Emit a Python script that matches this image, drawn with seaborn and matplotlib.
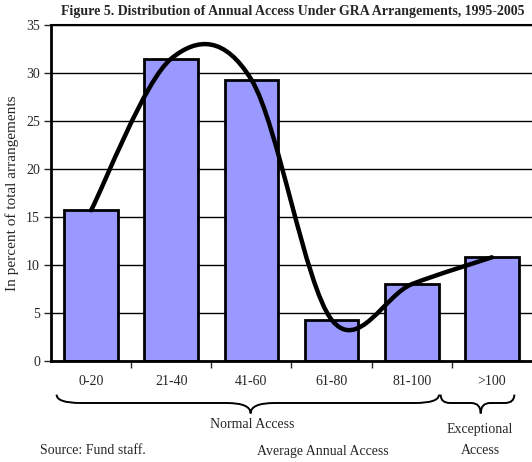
import numpy as np
import pandas as pd
import seaborn as sns
import matplotlib
matplotlib.use("Agg")
import matplotlib.pyplot as plt
from matplotlib.path import Path
from matplotlib.patches import PathPatch
import matplotlib.transforms as mtransforms

categories = ["0-20", "21-40", "41-60", "61-80", "81-100", ">100"]
shares = [15.7, 31.5, 29.3, 4.3, 8.0, 10.8]
title = "Figure 5. Distribution of Annual Access Under GRA Arrangements, 1995-2005"

sns.set_style("white")
plt.rcParams["font.family"] = ["Liberation Serif", "DejaVu Serif"]

W, H = 532, 462
fig = plt.figure(figsize=(W / 100, H / 100), dpi=100)
ax = fig.add_axes([51 / W, (H - 361) / H, 481 / W, 336 / H])

df = pd.DataFrame({"cat": categories, "val": shares})
sns.barplot(data=df, x="cat", y="val", ax=ax, color="#9999ff", saturation=1,
            width=0.67, edgecolor="black", linewidth=2, zorder=2)

# smoothed line through bar tops (Excel-style Catmull-Rom Bezier)
xs = np.arange(len(shares), dtype=float)
ys = np.array(shares, dtype=float)
verts = [(xs[0], ys[0])]
codes = [Path.MOVETO]
n = len(xs)
for i in range(n - 1):
    p0 = np.array([xs[max(i - 1, 0)], ys[max(i - 1, 0)]])
    p1 = np.array([xs[i], ys[i]])
    p2 = np.array([xs[i + 1], ys[i + 1]])
    p3 = np.array([xs[min(i + 2, n - 1)], ys[min(i + 2, n - 1)]])
    c1 = p1 + (p2 - p0) / 6
    c2 = p2 - (p3 - p1) / 6
    verts += [tuple(c1), tuple(c2), tuple(p2)]
    codes += [Path.CURVE4] * 3
ax.add_patch(PathPatch(Path(verts, codes), facecolor="none", edgecolor="black",
                       lw=3.2, zorder=4, capstyle="round"))

ax.set_xlim(-0.5, 5.5)
ax.set_ylim(0, 35)
ax.set_yticks(range(0, 36, 5))
ax.set_xticks(np.arange(len(categories)))
ax.set_xticklabels(categories, fontsize=10)
ax.tick_params(axis="y", labelsize=10, length=5, width=1, direction="out", left=True, pad=3)
ax.tick_params(axis="x", length=0, pad=10)
# minor ticks at category boundaries
ax.set_xticks(np.arange(0.5, 5.5, 1), minor=True)
ax.tick_params(axis="x", which="minor", length=5, width=1, direction="out", bottom=True)
ax.yaxis.grid(True, color="black", linewidth=1)
ax.set_axisbelow(True)
ax.set_xlabel("")
ax.set_ylabel("In percent of total arrangements", fontsize=11, labelpad=5)
for s in ["left", "bottom"]:
    ax.spines[s].set_linewidth(2)
    ax.spines[s].set_color("black")
ax.spines["top"].set_linewidth(1.5)
ax.spines["top"].set_color("black")
ax.spines["right"].set_visible(False)

# braces (x in data, y in axes fraction)
tr = mtransforms.blended_transform_factory(ax.transData, ax.transAxes)

def brace(xa, xb, xm, y0, y1, y2, d):
    v = [(xa, y0), (xa, y1), (xa + d, y1), (xm - d, y1), (xm, y1), (xm, y2),
         (xm, y1), (xm + d, y1), (xb - d, y1), (xb, y1), (xb, y0)]
    c = [Path.MOVETO, Path.CURVE3, Path.CURVE3, Path.LINETO, Path.CURVE3, Path.CURVE3,
         Path.CURVE3, Path.CURVE3, Path.LINETO, Path.CURVE3, Path.CURVE3]
    ax.add_patch(PathPatch(Path(v, c), facecolor="none", edgecolor="black", lw=1.4,
                           transform=tr, clip_on=False))

brace(-0.43, 4.34, 1.99, -0.100, -0.125, -0.156, 0.3)
brace(4.36, 5.28, 4.86, -0.100, -0.125, -0.156, 0.12)

fig.text(252 / W, 1 - 424 / H, "Normal Access", ha="center", va="center", fontsize=10)
fig.text(480 / W, 1 - 430 / H, "Exceptional", ha="center", va="center", fontsize=10)
fig.text(480 / W, 1 - 451 / H, "Access", ha="center", va="center", fontsize=10)
fig.text(323 / W, 1 - 451 / H, "Average Annual Access", ha="center", va="center", fontsize=10)
fig.text(40 / W, 1 - 451 / H, "Source: Fund staff.", ha="left", va="center", fontsize=10)
fig.text(293 / W, 1 - 12 / H, title, ha="center", va="center", fontsize=10, fontweight="bold")

fig.savefig("out.png", dpi=100)
